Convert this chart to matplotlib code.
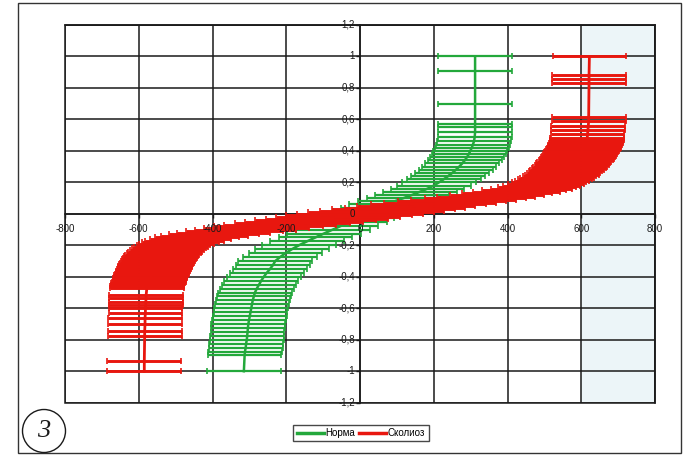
import matplotlib.pyplot as plt
from matplotlib.lines import Line2D
from matplotlib.patches import Rectangle, Ellipse

# Норма: centre of each horizontal bar (x) at its level (y)
norm_y = [-1.0, -0.9, -0.875, -0.85, -0.825, -0.8, -0.775, -0.75, -0.725, -0.7,
          -0.675, -0.65, -0.625, -0.6, -0.575, -0.55, -0.525, -0.5, -0.475, -0.45,
          -0.425, -0.4, -0.375, -0.35, -0.325, -0.3, -0.275, -0.25, -0.225, -0.2,
          -0.175, -0.15, -0.125, -0.1, -0.075, -0.05, -0.025,
          0.0, 0.02, 0.04, 0.06, 0.08, 0.1, 0.12, 0.14, 0.16, 0.18,
          0.2, 0.22, 0.24, 0.26, 0.28, 0.3, 0.32, 0.34, 0.36, 0.38,
          0.4, 0.42, 0.44, 0.46, 0.49, 0.52, 0.55, 0.57, 0.7, 0.91, 1.0]
norm_x = [-315, -313, -312, -310, -309, -307, -306, -305, -304, -303,
          -301, -299, -297, -295, -293, -291, -288, -285, -280, -274,
          -268, -261, -253, -244, -236, -230, -217, -202, -185, -166,
          -144, -121, -98, -74, -50, -28, -8,
          10, 28, 48, 70, 94, 118, 141, 162, 183, 200,
          214, 227, 239, 250, 260, 269, 277, 284, 290, 295,
          299, 303, 306, 309, 311, 312, 312, 312, 312, 312, 312]
norm_err = 100

# Сколиоз
scol_y = [-1.0, -0.935, -0.775, -0.745, -0.7, -0.66, -0.627, -0.6, -0.578, -0.557, -0.536, -0.515,
          -0.47, -0.46, -0.45, -0.44, -0.43, -0.42, -0.41, -0.4, -0.39, -0.38,
          -0.37, -0.36, -0.35, -0.34, -0.33, -0.32, -0.31, -0.3, -0.29, -0.28,
          -0.27, -0.26, -0.25, -0.24, -0.23, -0.22, -0.21,
          -0.2, -0.19, -0.18, -0.17, -0.16, -0.15, -0.14, -0.13, -0.12, -0.11,
          -0.1, -0.09, -0.08, -0.07, -0.06, -0.05, -0.04, -0.03, -0.02, -0.01,
          0.0,
          0.01, 0.02, 0.03, 0.04, 0.05, 0.06, 0.07, 0.08, 0.09, 0.1,
          0.11, 0.12, 0.13, 0.14, 0.15, 0.16, 0.17, 0.18, 0.19, 0.2,
          0.21, 0.22, 0.23, 0.24, 0.25, 0.26, 0.27, 0.28, 0.29, 0.3,
          0.31, 0.32, 0.33, 0.34, 0.35, 0.36, 0.37, 0.38, 0.39, 0.4,
          0.41, 0.42, 0.43, 0.44, 0.45, 0.46, 0.47,
          0.48, 0.505, 0.535, 0.56, 0.59, 0.615, 0.83, 0.855, 0.88, 1.0]
scol_x = [-585, -585, -584, -584, -583, -583, -582, -582, -581, -581, -580, -580,
          -578, -577, -576, -574, -573, -571, -570, -568, -567, -565,
          -563, -561, -559, -557, -555, -553, -551, -548, -545, -542,
          -539, -536, -532, -528, -524, -519, -513,
          -506, -497, -487, -475, -460, -442, -421, -397, -370, -341,
          -311, -280, -248, -216, -184, -152, -121, -90, -60, -30,
          0,
          30, 60, 91, 122, 153, 185, 217, 249, 281, 312,
          342, 371, 398, 423, 445, 464, 480, 493, 504, 513,
          521, 528, 535, 541, 547, 552, 557, 562, 566, 570,
          574, 578, 581, 585, 588, 591, 594, 597, 600, 602,
          605, 607, 609, 611, 613, 614, 615,
          616, 617, 618, 619, 620, 620, 621, 621, 621, 622]
scol_err = [100, 100, 100, 100, 100, 100, 100, 100, 100, 100, 100, 100,
            100, 100, 100, 100, 100, 100, 100, 100, 100, 100,
            100, 100, 100, 100, 100, 100, 100, 100, 100, 100,
            100, 100, 100, 100, 100, 100, 100,
            100, 102, 104, 107, 110, 114, 118, 122, 127, 132,
            137, 142, 147, 152, 156, 160, 163, 166, 168, 170,
            170,
            170, 168, 166, 163, 160, 156, 152, 147, 142, 137,
            132, 127, 122, 118, 114, 110, 107, 104, 102, 100,
            100, 100, 100, 100, 100, 100, 100, 100, 100, 100,
            100, 100, 100, 100, 100, 100, 100, 100, 100, 100,
            100, 100, 100, 100, 100, 100, 100,
            100, 100, 100, 100, 100, 100, 100, 100, 100, 100]

series_names = ['Норма', 'Сколиоз']
x_ticks = [-800, -600, -400, -200, 0, 200, 400, 600, 800]
y_ticks = [-1.2, -1.0, -0.8, -0.6, -0.4, -0.2, 0.0, 0.2, 0.4, 0.6, 0.8, 1.0, 1.2]

plt.rcParams['font.family'] = ['Liberation Sans', 'DejaVu Sans']

green = '#23a83b'
red = '#e8170f'
ink = '#1a1a1a'

fig = plt.figure(figsize=(6.88, 4.57), dpi=100)
ax = fig.add_axes([0.0945, 0.1188, 0.8576, 0.8265])
ax.set_xlim(-800, 800)
ax.set_ylim(-1.2, 1.2)
ax.axvspan(600, 800, color='#ecf5f8', lw=0, zorder=0)

ax.set_xticks(x_ticks)
ax.set_yticks(y_ticks)
ax.grid(True, color=ink, lw=1.1)
ax.set_axisbelow(True)
ax.spines['left'].set_position('zero')
ax.spines['bottom'].set_position('zero')
for s in ax.spines.values():
    s.set_color(ink)
    s.set_linewidth(1.1)
ax.tick_params(labelbottom=False, labelleft=False, direction='out',
               length=3, width=1.0, color=ink)
ax.add_patch(Rectangle((0, 0), 1, 1, transform=ax.transAxes, fill=False,
                       ec=ink, lw=1.1, clip_on=False, zorder=1))

ax.errorbar(norm_x, norm_y, xerr=norm_err, color=green, lw=1.8, elinewidth=1.6,
            capsize=2.5, capthick=1.2, zorder=3)
ax.errorbar(scol_x, scol_y, xerr=scol_err, color=red, lw=2.0, elinewidth=2.1,
            capsize=2.5, capthick=1.2, zorder=4)

# tick labels sit on top of the data, as in the spreadsheet chart
for t in x_ticks:
    ax.annotate(f'{t}', (t, 0), xytext=(0, -11), textcoords='offset points',
                ha='center', va='center', fontsize=7, color=ink, zorder=10)
for t in y_ticks:
    lab = f'{t:g}'.replace('.', ',')
    if lab == '-0':
        lab = '0'
    ax.annotate(lab, (0, t), xytext=(-3.5, 0), textcoords='offset points',
                ha='right', va='center', fontsize=7, color=ink, zorder=10)

handles = [Line2D([], [], color=green, lw=2.5), Line2D([], [], color=red, lw=2.5)]
fig.legend(handles, series_names, loc='center', bbox_to_anchor=(361 / 688, 1 - 433 / 457),
           ncol=2, fontsize=7, frameon=True, fancybox=False, edgecolor=ink,
           handlelength=2.8, handletextpad=0.15, columnspacing=0.4, borderpad=0.35)

# outer frame and the figure number in a circle
fig.add_artist(Rectangle((18 / 688, 1 - 453 / 457), 663 / 688, 450 / 457,
                         transform=fig.transFigure, fill=False, ec='#333333', lw=1.0))
fig.add_artist(Ellipse((44 / 688, 1 - 431 / 457), 43 / 688, 43 / 457,
                       transform=fig.transFigure, fill=False, ec=ink, lw=1.0))
fig.text(44 / 688, 1 - 431 / 457, '3', ha='center', va='center', fontsize=19,
         family='Liberation Serif', style='italic', color=ink)

fig.savefig('out.png', dpi=100)
